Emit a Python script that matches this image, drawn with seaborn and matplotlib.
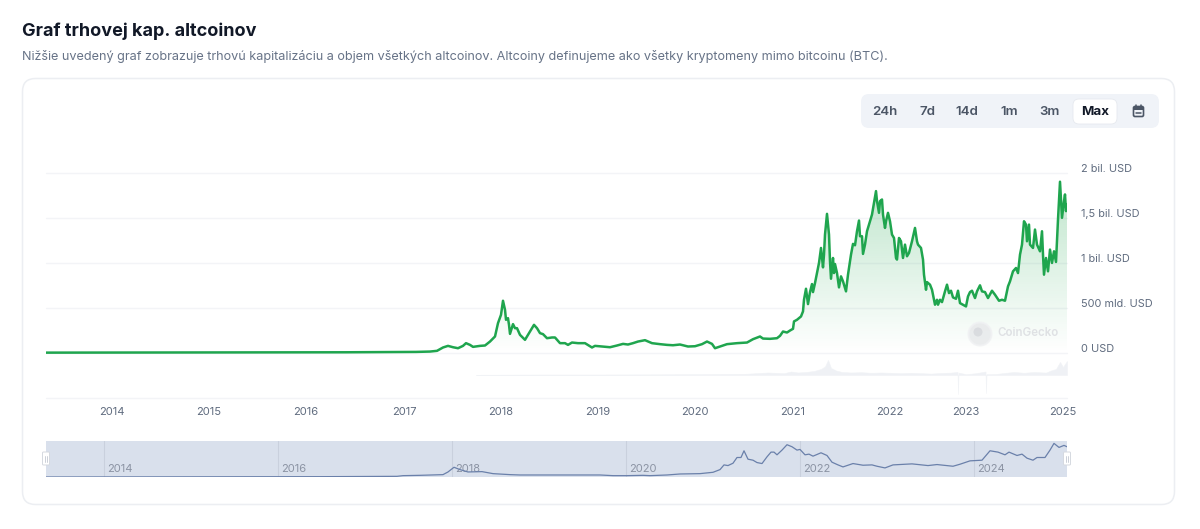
import numpy as np
import pandas as pd
import seaborn as sns
import matplotlib
matplotlib.use("Agg")
import matplotlib.pyplot as plt
from matplotlib.patches import FancyBboxPatch, Circle, Rectangle
from matplotlib.transforms import ScaledTranslation

# ---------- data (sample slot on the chart's ordinal time axis, value in mld. USD) ----------
main_slots = [0,100,200,300,370,384,391,397,402,407,412,417,420,424,427,434,439,444,449,452,455,457,459,460,462,463,464,467,469,471,474,479,482,486,488,491,494,497,501,506,509,514,519,522,526,532,539,546,549,556,564,
571,577,582,587,592,599,606,614,621,627,634,642,649,656,661,666,669,674,681,691,701,707,714,717,724,731,734,737,741,744,
747,748,751,753,755,757,758,760,762,764,766,767,769,771,773,775,777,778,779,781,783,784,785,787,788,789,791,793,795,797,800,802,805,807,809,811,813,814,816,817,819,821,823,826,
828,830,831,833,834,836,837,839,840,842,844,846,848,850,851,853,855,857,859,861,863,866,869,871,872,875,877,878,880,881,884,886,889,891,892,894,896,899,901,903,905,907,910,912,914,917,920,922,
924,926,929,931,934,936,939,942,946,949,953,956,959,962,964,967,970,972,974,976,978,980,981,983,984,987,989,991,994,996,997,998,1000,1002,1004,1006,1008,1010,1012,1014,1016,1018,1019,1020,1021]
main_values = [6,7,8,10,14,18,26,63,81,66,55,81,111,92,70,81,85,129,185,333,425,581,481,370,388,314,214,322,277,277,203,148,203,277,314,277,222,211,166,174,174,111,111,92,118,111,111,63,81,74,66,
85,103,96,111,129,144,111,100,92,88,96,74,77,100,129,103,55,74,100,111,118,155,185,162,159,166,192,240,229,251,
270,352,370,389,407,463,592,714,544,677,766,677,777,888,1000,1166,951,1092,1314,1544,1314,1018,825,1055,888,988,888,729,851,796,685,870,1092,1211,1196,1351,1470,1296,1296,1100,1203,1351,1425,1536,
1666,1796,1685,1555,1685,1703,1536,1388,1462,1555,1462,1314,1277,1055,1037,1277,1240,1055,1203,1074,1111,1240,1388,1240,1203,1166,1037,870,703,788,759,703,537,592,537,592,566,685,759,666,692,618,603,692,555,537,518,629,
677,692,611,685,752,685,677,611,692,648,581,592,581,740,796,907,944,888,1092,1203,1462,1425,1240,1425,1203,1166,1370,1203,1129,1351,1092,870,1055,907,1148,1000,1129,1011,1481,1900,1500,1685,1759,1574,1648]

volume_slots = [430,500,560,600,650,700,722,738,745,752,760,768,775,779,782,785,790,796,805,815,825,835,845,855,865,875,885,895,905,911.5,912,912.5,920,930,939.5,940,940.5,950,960,968,978,988,1000,1005,1010,1014,1017,1021]
volume_values = [2,5,5,6,8,12,25,18,35,25,30,40,60,85,150,70,45,30,25,28,22,25,22,18,22,18,14,20,24,30,-190,24,8,18,35,-180,8,10,22,30,22,30,24,45,60,130,80,140]

nav_slots = [0,274,351,357,374,397,402,408,414,422,436,447,464,474,554,567,581,597,604,621,634,654,667,674,678,682,687,691,695,698,702,707,711,716,721,725,728,731,736,741,746,751,754,759,763,767,775,781,786,792,797,807,817,826,831,839,847,866,882,891,907,914,924,936,944,952,959,963,971,976,981,987,991,999,1004,1008,1013,1018,1021]
nav_values = [0,18,37,74,92,130,277,536,407,277,296,185,130,111,111,74,74,92,74,111,166,185,259,407,666,629,758,1073,1073,1443,980,925,795,740,1110,1369,1369,1221,1480,1776,1665,1480,1517,1221,1258,1147,1332,1184,814,666,555,740,648,666,592,500,666,722,629,685,592,703,888,925,1443,1369,1221,1369,1184,1258,1036,925,1073,1073,1480,1850,1628,1739,1665]

year_labels = ["2014","2015","2016","2017","2018","2019","2020","2021","2022","2023","2025"]
year_slots = [66,163,260,358,455,552,649,747,844,920,1017]
y_ticks = [-500,0,500,1000,1500,2000]
y_labels = ["","0 USD","500 mld. USD","1 bil. USD","1,5 bil. USD","2 bil. USD"]
nav_labels = ["2014","2016","2018","2020","2022","2024"]
nav_ticks = [58,232,406,580,754,928]
buttons = ["24h","7d","14d","1m","3m"]

title = "Graf trhovej kap. altcoinov"
subtitle = "Nižšie uvedený graf zobrazuje trhovú kapitalizáciu a objem všetkých altcoinov. Altcoiny definujeme ako všetky kryptomeny mimo bitcoinu (BTC)."

# ---------- setup ----------
sns.set_theme(style="white")
plt.rcParams["font.family"] = ["Inter", "DejaVu Sans"]
W, H = 1200, 529
fig = plt.figure(figsize=(W/100, H/100), dpi=100, facecolor="white")

def px_axes(x0, y0, x1, y1, **kw):
    return fig.add_axes([x0/W, 1-y1/H, (x1-x0)/W, (y1-y0)/H], **kw)

# chrome layer
bg = fig.add_axes([0, 0, 1, 1], zorder=0)
bg.set_xlim(0, W); bg.set_ylim(H, 0); bg.axis("off")
bg.text(22, 31, title, fontsize=13.0, fontweight="bold", color="#111827", va="center")
bg.text(22, 56.5, subtitle, fontsize=9.11, color="#677387", va="center")
bg.add_patch(FancyBboxPatch((22.5, 78.5), 1152, 426, boxstyle="round,pad=0,rounding_size=13",
                            fc="white", ec="#eceef2", lw=1.1))
bg.add_patch(FancyBboxPatch((861, 94), 298, 34, boxstyle="round,pad=0,rounding_size=8",
                            fc="#f0f3f8", ec="none"))
bg.add_patch(FancyBboxPatch((1073, 99), 44, 25, boxstyle="round,pad=0,rounding_size=6",
                            fc="white", ec="#e6e9ef", lw=0.6))
for lab, bx in zip(buttons, [885, 927, 967, 1009, 1049]):
    bg.text(bx, 112, lab, fontsize=9.6, fontweight="semibold", color="#4b5565", ha="center", va="center")
bg.text(1095, 112, "Max", fontsize=9.6, fontweight="bold", color="#111827", ha="center", va="center")
# calendar icon
bg.add_patch(FancyBboxPatch((1133.5, 106.5), 10, 10, boxstyle="round,pad=0,rounding_size=1.5",
                            fc="none", ec="#4b5565", lw=1.2))
bg.add_patch(Rectangle((1134, 106.5), 9, 3, fc="#4b5565", ec="none"))
bg.plot([1136, 1141], [112.8, 112.8], color="#4b5565", lw=1.1)
bg.plot([1136, 1136], [104.5, 106.5], color="#4b5565", lw=1.1)
bg.plot([1141, 1141], [104.5, 106.5], color="#4b5565", lw=1.1)

# ---------- main chart ----------
df = pd.DataFrame({"slot": main_slots, "value": main_values})
ax = px_axes(46, 172.7, 1067, 398.3, zorder=2)
ax.patch.set_alpha(0)
ax.set_xlim(0, 1021); ax.set_ylim(-500, 2000)
top = 2000
grad = np.zeros((256, 1, 4))
grad[..., 0] = 0x1e/255; grad[..., 1] = 0xa6/255; grad[..., 2] = 0x4c/255
grad[:, 0, 3] = np.linspace(0.30, 0.0, 256)
im = ax.imshow(grad, extent=(0, 1021, 0, top), aspect="auto", zorder=1, interpolation="bilinear")
poly = ax.fill_between(df["slot"], df["value"], 0, color="none", lw=0)
im.set_clip_path(poly.get_paths()[0], transform=ax.transData)
ax.set_xlim(0, 1021); ax.set_ylim(-500, 2000)
sns.lineplot(data=df, x="slot", y="value", ax=ax, color="#1fa54e", lw=1.8, zorder=3,
             estimator=None, sort=False, legend=False)
ax.set_xlabel(""); ax.set_ylabel("")
ax.set_yticks(y_ticks); ax.set_yticklabels(y_labels)
ax.set_xticks(year_slots); ax.set_xticklabels(year_labels)
ax.yaxis.tick_right()
ax.grid(axis="y", color="#f3f4f7", lw=1); ax.grid(axis="x", visible=False)
ax.set_axisbelow(True)
for gl in ax.get_ygridlines():
    gl.set_clip_on(False)
ax.tick_params(axis="y", length=0, pad=10, labelsize=7.85, labelcolor="#5f6b7e")
ax.tick_params(axis="x", length=0, pad=6.5, labelsize=8, labelcolor="#5f6b7e")
down = ScaledTranslation(0, -1/100, fig.dpi_scale_trans)
for t in ax.get_yticklabels():
    t.set_verticalalignment("bottom")
    t.set_transform(t.get_transform() + down)
for s in ax.spines.values():
    s.set_visible(False)

# volume strip
vax = px_axes(46, 353, 1067, 398, zorder=1.5)
vax.patch.set_alpha(0)
vax.set_xlim(0, 1021); vax.set_ylim(-230, 220); vax.axis("off")
vax.fill_between(volume_slots, volume_values, 0, facecolor="#eff1f5", edgecolor="#f1f3f6", lw=0.4)

# ---------- navigator ----------
nav = px_axes(46, 441, 1067, 477, zorder=2)
nav.set_facecolor("#d9e0ec")
nav.set_xlim(0, 1021); nav.set_ylim(0, 1981)
sns.lineplot(x=nav_slots, y=nav_values, ax=nav, color="#6a80aa", lw=0.9, estimator=None, sort=False, legend=False, zorder=3)
nav.set_xticks(nav_ticks); nav.set_xticklabels([]); nav.set_yticks([])
nav.set_xlabel(""); nav.set_ylabel("")
nav.grid(axis="x", color="#c9d0dd", lw=0.8); nav.grid(axis="y", visible=False)
nav.set_axisbelow(True)
nav.tick_params(length=0)
for s in nav.spines.values():
    s.set_visible(False)
for lab, tk in zip(nav_labels, nav_ticks):
    nav.annotate(lab, (tk, 0), xytext=(2.4, 2), textcoords="offset points", fontsize=8,
                 color="#8b93a3", ha="left", va="bottom", zorder=2)

# ---------- top layer: watermark and handles ----------
fg = fig.add_axes([0, 0, 1, 1], zorder=5)
fg.patch.set_alpha(0)
fg.set_xlim(0, W); fg.set_ylim(H, 0); fg.axis("off")
fg.add_patch(Circle((980, 334), 11.5, fc="#e6e8ea", ec="#f0f1f3", lw=1.5, alpha=0.8))
fg.add_patch(Circle((978, 332), 4.5, fc="#d6d8dc", ec="none", alpha=0.8))
fg.text(997, 333.5, "CoinGecko", fontsize=8.3, fontweight="semibold", color="#dfe1e4", va="center")
for hx in (46, 1067):
    fg.add_patch(FancyBboxPatch((hx-3.5, 452), 7, 13, boxstyle="round,pad=0,rounding_size=1",
                                fc="white", ec="#d5d9e0", lw=0.7))
    fg.plot([hx-0.8, hx-0.8], [455.5, 461.5], color="#c4c9d2", lw=0.6)
    fg.plot([hx+0.8, hx+0.8], [455.5, 461.5], color="#c4c9d2", lw=0.6)

fig.savefig("out.png", dpi=100, facecolor="white")
